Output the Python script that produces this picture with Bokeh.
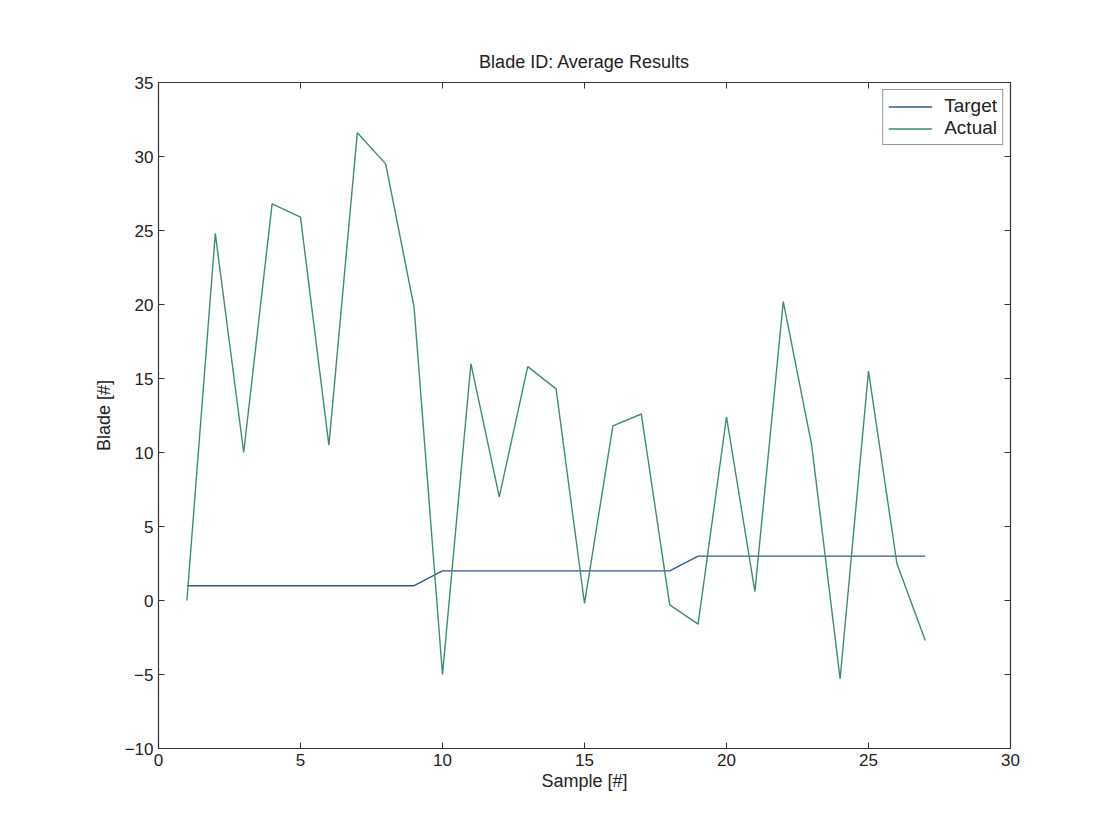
from bokeh.plotting import figure
from bokeh.models import LinearAxis, Range1d, FixedTicker, Legend, LegendItem, ColumnDataSource
from bokeh.embed import file_html
from bokeh.resources import INLINE

samples = list(range(1, 28))
target = [1]*9 + [2]*9 + [3]*9
actual = [0, 24.8, 10, 26.8, 25.9, 10.5, 31.6, 29.5, 19.8, -5.0,
          16.0, 7.0, 15.8, 14.3, -0.2, 11.8, 12.6, -0.3, -1.6, 12.4,
          0.6, 20.2, 10.5, -5.3, 15.5, 2.5, -2.7]
x_ticks = [0, 5, 10, 15, 20, 25, 30]
y_ticks = [-10, -5, 0, 5, 10, 15, 20, 25, 30, 35]

FONT = "Liberation Sans"

p = figure(width=1119, height=837, output_backend="svg", toolbar_location=None,
           x_range=Range1d(0, 30), y_range=Range1d(-10, 35),
           title="Blade ID: Average Results",
           min_border_left=158, min_border_right=109, min_border_top=82, min_border_bottom=89)
p.title.align = "center"
p.title.text_font = FONT
p.title.text_font_size = "18px"
p.title.text_font_style = "normal"
p.title.text_color = "#222222"
p.title.standoff = 22
p.grid.visible = False
p.outline_line_color = "#333333"
p.outline_line_width = 1.2

src = ColumnDataSource(dict(x=samples, t=target, a=actual))
r1 = p.line("x", "t", source=src, line_color="#2f5a8c", line_width=1.4)
r2 = p.line("x", "a", source=src, line_color="#3b8f6c", line_width=1.4)

for ax in (p.xaxis[0], p.yaxis[0]):
    ax.major_tick_in = 6
    ax.major_tick_out = 0
    ax.minor_tick_in = 0
    ax.minor_tick_out = 0
    ax.axis_line_color = "#333333"
    ax.major_tick_line_color = "#333333"
    ax.major_label_text_font = FONT
    ax.major_label_text_font_size = "17px"
    ax.major_label_text_color = "#222222"
    ax.axis_label_text_font = FONT
    ax.axis_label_text_font_size = "18px"
    ax.axis_label_text_font_style = "normal"
    ax.axis_label_text_color = "#222222"
p.xaxis[0].ticker = FixedTicker(ticks=x_ticks)
p.yaxis[0].ticker = FixedTicker(ticks=y_ticks)
p.xaxis[0].axis_label = "Sample [#]"
p.yaxis[0].axis_label = "Blade [#]"
p.xaxis[0].axis_label_standoff = 2
p.yaxis[0].axis_label_standoff = 8

top = LinearAxis(ticker=FixedTicker(ticks=x_ticks), major_label_text_alpha=0,
                 major_label_text_font_size="1px", major_tick_in=6, major_tick_out=0,
                 minor_tick_in=0, minor_tick_out=0, axis_line_color="#333333",
                 major_tick_line_color="#333333")
right = LinearAxis(ticker=FixedTicker(ticks=y_ticks), major_label_text_alpha=0,
                   major_label_text_font_size="1px", major_tick_in=6, major_tick_out=0,
                   minor_tick_in=0, minor_tick_out=0, axis_line_color="#333333",
                   major_tick_line_color="#333333")
p.add_layout(top, "above")
p.add_layout(right, "right")

legend = Legend(items=[LegendItem(label="Target", renderers=[r1]),
                       LegendItem(label="Actual", renderers=[r2])],
                location="top_right", label_text_font=FONT, label_text_font_size="19px",
                label_text_color="#222222", border_line_color="#333333",
                border_line_width=1, glyph_width=44, glyph_height=17,
                spacing=0, padding=5, margin=7, label_height=17,
                label_standoff=12)
p.add_layout(legend)

open("out.html", "w").write(file_html(p, INLINE))
